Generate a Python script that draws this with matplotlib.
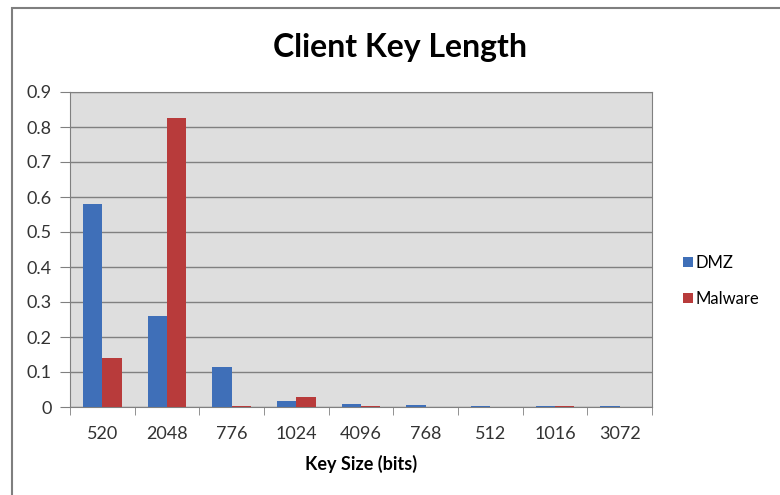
import numpy as np
import matplotlib
matplotlib.use("Agg")
import matplotlib.pyplot as plt
from matplotlib.patches import Rectangle

categories = ["520", "2048", "776", "1024", "4096", "768", "512", "1016", "3072"]
dmz = [0.58, 0.26, 0.115, 0.017, 0.010, 0.007, 0.002, 0.002, 0.002]
malware = [0.14, 0.825, 0.002, 0.028, 0.002, 0.0, 0.001, 0.002, 0.0]
yticks = [0, 0.1, 0.2, 0.3, 0.4, 0.5, 0.6, 0.7, 0.8, 0.9]

plt.rcParams["font.family"] = ["Lato", "DejaVu Sans"]

fig = plt.figure(figsize=(7.8, 4.95), dpi=100)
fig.patches.append(Rectangle((12 / 780, -0.01), 1.0, 1 - 8 / 495 + 0.01,
                             transform=fig.transFigure, fill=False,
                             edgecolor="#7f7f7f", lw=1.5))
ax = fig.add_axes([70 / 780, 1 - 407 / 495, 582 / 780, 315 / 495])
ax.set_facecolor("#dedede")

x = np.arange(len(categories))
w = 0.3
ax.bar(x - w / 2, dmz, w, color="#3f6fb8", label="DMZ", zorder=3)
ax.bar(x + w / 2, malware, w, color="#b83b3b", label="Malware", zorder=3)

ax.set_xlim(-0.5, len(categories) - 0.5)
ax.set_ylim(0, 0.9)
ax.set_yticks(yticks)
ax.set_yticklabels(["0" if v == 0 else f"{v:.1f}" for v in yticks])
ax.yaxis.grid(True, color="#808080", lw=1.0, zorder=0)
ax.set_xticks(x)
ax.set_xticklabels(categories)
ax.set_xticks(np.arange(len(categories) + 1) - 0.5, minor=True)
ax.tick_params(axis="x", which="major", length=0, pad=14, labelsize=13, colors="#333333")
ax.tick_params(axis="x", which="minor", length=6, color="#808080")
ax.tick_params(axis="y", length=7, pad=6, color="#808080", labelsize=13, labelcolor="#333333")
for s in ax.spines.values():
    s.set_color("#808080")
ax.set_xlabel("Key Size (bits)", fontsize=13, fontweight="bold", labelpad=9)

fig.text(400 / 780, 1 - 48 / 495, "Client Key Length", ha="center", va="center",
         fontsize=23, fontweight="bold")

fig.legend(loc="center left", bbox_to_anchor=(668 / 780, 1 - 281 / 495),
           frameon=False, fontsize=12, handlelength=0.6, handleheight=0.6,
           handletextpad=0.15, labelspacing=1.2)

fig.savefig("out.png", dpi=100)
